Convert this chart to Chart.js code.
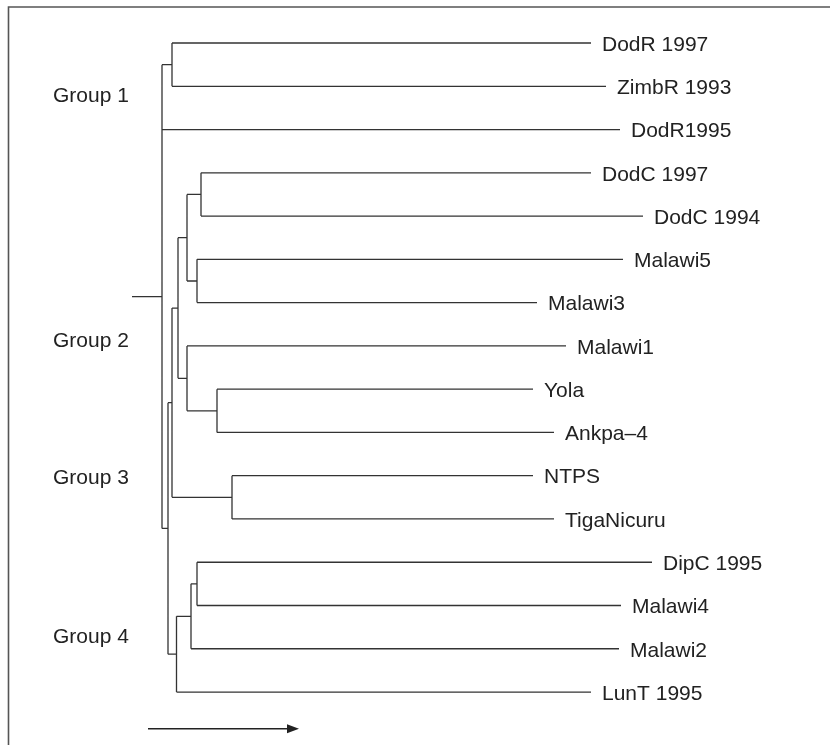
<!DOCTYPE html>
<html>
<head>
<meta charset="utf-8">
<script src="https://cdn.jsdelivr.net/npm/chart.js@4/dist/chart.umd.min.js"></script>
<style>
  html, body { margin: 0; padding: 0; background: #fff; }
  #wrap { width: 830px; height: 745px; position: relative; }
</style>
</head>
<body>
<div id="wrap"><canvas id="c"></canvas></div>
<script>
// ---- Data ----
// Leaves in top-to-bottom order
const leafNames = ["DodR 1997", "ZimbR 1993", "DodR1995", "DodC 1997", "DodC 1994",
  "Malawi5", "Malawi3", "Malawi1", "Yola", "Ankpa–4", "NTPS", "TigaNicuru",
  "DipC 1995", "Malawi4", "Malawi2", "LunT 1995"];
// Distance from the root stem start to each leaf tip
const leafDistance = [91.8, 94.8, 97.6, 91.8, 102.2, 98.2, 81.0, 86.8, 80.2, 84.4,
  80.2, 84.4, 104.0, 97.8, 97.4, 91.8];
// Internal nodes: id, depth, children (numbers = leaf index, strings = node id)
const nodeIds = ["A", "B", "C", "D", "E", "F", "G", "H", "I", "J", "K", "L", "M", "R"];
const nodeDepth = [8.0, 13.8, 13.0, 11.0, 17.0, 11.0, 9.2, 20.0, 8.0, 13.0, 11.8, 8.9, 7.2, 6.0];
const nodeChildren = [[0, 1], [3, 4], [5, 6], ["B", "C"], [8, 9], [7, "E"], ["D", "F"],
  [10, 11], ["G", "H"], [12, 13], ["J", 14], ["K", 15], ["I", "L"], ["A", 2, "M"]];
const rootStemStart = 0;
// Group labels and their row positions
const groupLabels = ["Group 1", "Group 2", "Group 3", "Group 4"];
const groupRows = [1.2, 6.86, 10.03, 13.72];
// Arrow under the tree
const arrowFrom = 3.2, arrowTo = 33.4, arrowRow = 15.85;

// ---- Build tree geometry from the data ----
function info(ref) {
  if (typeof ref === "number") return { depth: leafDistance[ref], row: ref };
  const i = nodeIds.indexOf(ref);
  const kids = nodeChildren[i].map(info);
  const rows = kids.map(k => k.row);
  const top = Math.min(...rows), bot = Math.max(...rows);
  return { depth: nodeDepth[i], row: (top + bot) / 2, kids, top, bot };
}
const segs = [];
function walk(ref) {
  const n = info(ref);
  if (!n.kids) return n;
  const i = nodeIds.indexOf(ref);
  segs.push({ x: n.depth, y: n.top }, { x: n.depth, y: n.bot }, { x: null, y: null });
  nodeChildren[i].forEach(c => {
    const k = walk(c);
    segs.push({ x: n.depth, y: k.row }, { x: k.depth, y: k.row }, { x: null, y: null });
  });
  return n;
}
const root = walk("R");
segs.push({ x: rootStemStart, y: root.row }, { x: root.depth, y: root.row });

const labelPlugin = {
  id: "labels",
  afterDatasetsDraw(chart) {
    const ctx = chart.ctx, xs = chart.scales.x, ys = chart.scales.y;
    ctx.save();
    // frame (top and left)
    ctx.strokeStyle = "#555";
    ctx.lineWidth = 1.6;
    ctx.beginPath();
    ctx.moveTo(8.5, chart.height);
    ctx.lineTo(8.5, 7);
    ctx.lineTo(chart.width, 7);
    ctx.stroke();
    ctx.fillStyle = "#222";
    ctx.font = "21px 'Liberation Sans', Arial, sans-serif";
    ctx.textBaseline = "middle";
    ctx.textAlign = "left";
    leafNames.forEach((name, i) => {
      ctx.fillText(name, xs.getPixelForValue(leafDistance[i]) + 11, ys.getPixelForValue(i) + 2);
    });
    groupLabels.forEach((g, i) => {
      ctx.fillText(g, 53, ys.getPixelForValue(groupRows[i]) + 1);
    });
    // arrow
    const y = ys.getPixelForValue(arrowRow);
    const x0 = xs.getPixelForValue(arrowFrom), x1 = xs.getPixelForValue(arrowTo);
    ctx.strokeStyle = "#222";
    ctx.lineWidth = 1.4;
    ctx.beginPath();
    ctx.moveTo(x0, y);
    ctx.lineTo(x1 - 8, y);
    ctx.stroke();
    ctx.beginPath();
    ctx.moveTo(x1, y);
    ctx.lineTo(x1 - 12, y - 4.5);
    ctx.lineTo(x1 - 12, y + 4.5);
    ctx.closePath();
    ctx.fill();
    ctx.restore();
  }
};

new Chart(document.getElementById("c"), {
  type: "line",
  data: {
    datasets: [{
      data: segs,
      borderColor: "#333",
      borderWidth: 1.3,
      pointRadius: 0,
      spanGaps: false,
      tension: 0,
      fill: false
    }]
  },
  options: {
    responsive: true,
    maintainAspectRatio: false,
    animation: false,
    layout: { padding: 0 },
    plugins: { legend: { display: false }, tooltip: { enabled: false } },
    scales: {
      x: { type: "linear", display: false, min: -26.4, max: 139.6 },
      y: { type: "linear", display: false, reverse: true, min: -0.994, max: 16.224 }
    }
  },
  plugins: [labelPlugin]
});
</script>
</body>
</html>
